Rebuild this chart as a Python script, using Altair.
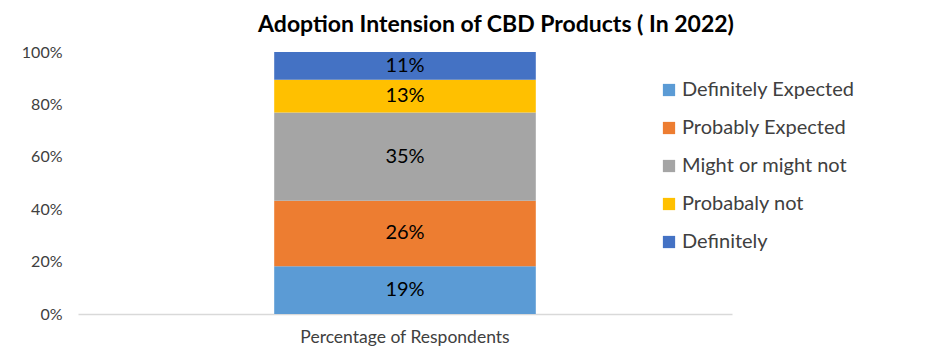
import altair as alt
import pandas as pd

categories = ["Definitely Expected", "Probably Expected", "Might or might not", "Probabaly not", "Definitely"]
values = [19, 26, 35, 13, 11]
labels = ["19%", "26%", "35%", "13%", "11%"]
colors = ["#5B9BD5", "#ED7D31", "#A5A5A5", "#FFC000", "#4472C4"]
group = "Percentage of Respondents"

df = pd.DataFrame({
    "group": [group] * len(categories),
    "category": categories,
    "value": values,
    "label": labels,
    "order": list(range(len(categories))),
})

FONT = "Lato"

base = alt.Chart(df).transform_joinaggregate(
    total="sum(value)"
).transform_calculate(
    frac="datum.value / datum.total"
).transform_stack(
    stack="frac", groupby=["group"], as_=["y0", "y1"], sort=[alt.SortField("order", order="ascending")]
).transform_calculate(
    mid="(datum.y0 + datum.y1) / 2"
)

xenc = alt.X(
    "group:N",
    title=None,
    scale=alt.Scale(paddingInner=0.6, paddingOuter=0.3),
    axis=alt.Axis(
        labelAngle=0, labelFont=FONT, labelFontSize=17.5, labelColor="#404040",
        labelPadding=14, labelLimit=400, ticks=False, domainColor="#D9D9D9", domainWidth=1.5,
    ),
)

bars = base.mark_bar().encode(
    x=xenc,
    y=alt.Y(
        "y0:Q", title=None,
        scale=alt.Scale(domain=[0, 1], nice=False),
        axis=alt.Axis(
            format=".0%", values=[0, 0.2, 0.4, 0.6, 0.8, 1.0], grid=False, domain=False,
            ticks=False, labelFont=FONT, labelFontSize=16, labelColor="#404040", labelPadding=16,
        ),
    ),
    y2="y1:Q",
    color=alt.Color(
        "category:N",
        scale=alt.Scale(domain=categories, range=colors),
        legend=alt.Legend(
            title=None, orient="none", legendX=581, legendY=28,
            symbolType="square", symbolSize=150, symbolStrokeWidth=0,
            labelFont=FONT, labelFontSize=20, labelColor="#404040",
            rowPadding=18, labelOffset=3, labelLimit=300,
        ),
    ),
)

text = base.mark_text(font=FONT, fontSize=20, color="#000000").encode(
    x=alt.X("group:N"),
    y=alt.Y("mid:Q"),
    text="label:N",
)

chart = alt.layer(bars, text).properties(
    width=654,
    height=262,
    autosize=alt.AutoSizeParams(type="none"),
    padding={"left": 70, "top": 44, "right": 201, "bottom": 34},
    title=alt.TitleParams(
        "Adoption Intension of CBD Products ( In 2022)",
        font=FONT, fontSize=23, fontWeight="bold", color="#000000",
        anchor="middle", dx=91, offset=7,
    ),
).configure_view(stroke=None)

chart.save("out.html", embed_options={"renderer": "svg", "actions": False})
